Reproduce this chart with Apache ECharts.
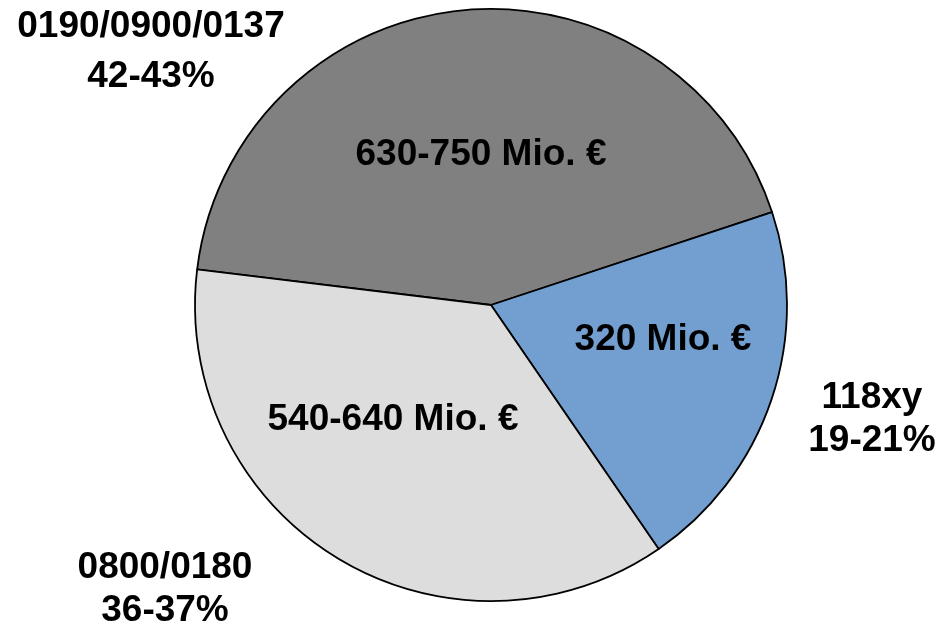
<!DOCTYPE html>
<html>
<head>
<meta charset="utf-8">
<script src="https://cdn.jsdelivr.net/npm/echarts@6/dist/echarts.min.js"></script>
<style>html,body{margin:0;padding:0;background:#fff;}#c{width:951px;height:630px;}</style>
</head>
<body>
<div id="c"></div>
<script>
var categories = ['0190/0900/0137', '118xy', '0800/0180'];
var values = [43, 20.5, 36.5];
var amountLabels = ['630-750 Mio. €', '320 Mio. €', '540-640 Mio. €'];
var shareLabels = ['42-43%', '19-21%', '36-37%'];
var colors = ['#808080', '#729FCF', '#DDDDDD'];

var innerPos = [[481, 155], [663, 340], [393, 420]];
var outerPos = [[151, 52], [872, 419], [165, 589]];
var outerLH = [50, 43, 43];

var chart = echarts.init(document.getElementById('c'), null, {renderer: 'canvas'});
var font = {fontFamily: '"Liberation Sans", Arial, sans-serif', fontWeight: 'bold', fontSize: 37, color: '#000'};

chart.setOption({
  animation: false,
  series: [
    {
      type: 'pie',
      center: [491, 305],
      radius: [0, 296],
      startAngle: 173.1,
      clockwise: true,
      silent: true,
      data: categories.map(function (c, i) {
        return {name: c, value: values[i], itemStyle: {color: colors[i]}};
      }),
      itemStyle: {borderColor: '#000', borderWidth: 1.8},
      label: Object.assign({
        show: true,
        position: 'inside',
        formatter: function (p) { return amountLabels[p.dataIndex]; }
      }, font),
      labelLine: {show: false},
      labelLayout: function (p) {
        return {x: innerPos[p.dataIndex][0], y: innerPos[p.dataIndex][1], align: 'center', verticalAlign: 'middle'};
      }
    },
    {
      type: 'pie',
      center: [491, 305],
      radius: [0, 296],
      startAngle: 173.1,
      clockwise: true,
      silent: true,
      z: 3,
      data: categories.map(function (c, i) {
        return {name: c, value: values[i], label: {lineHeight: outerLH[i]}};
      }),
      itemStyle: {color: 'rgba(0,0,0,0)', borderWidth: 0},
      label: Object.assign({
        show: true,
        position: 'inside',
        formatter: function (p) { return categories[p.dataIndex] + '\n' + shareLabels[p.dataIndex]; }
      }, font),
      labelLine: {show: false},
      labelLayout: function (p) {
        return {x: outerPos[p.dataIndex][0], y: outerPos[p.dataIndex][1], align: 'center', verticalAlign: 'middle'};
      }
    }
  ]
});
</script>
</body>
</html>
